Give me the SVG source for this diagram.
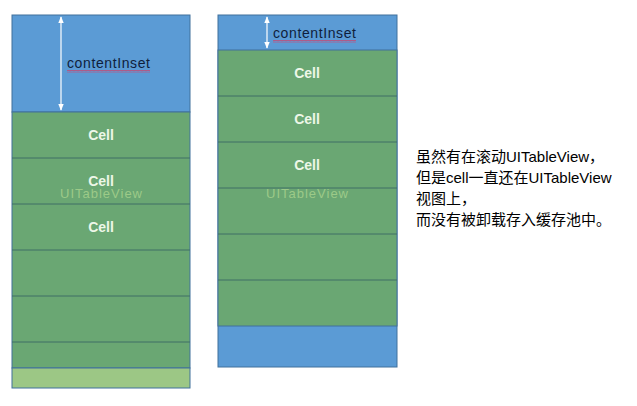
<svg xmlns="http://www.w3.org/2000/svg" width="637" height="406" viewBox="0 0 637 406">
<defs>
<style>
.blue{fill:#5b9bd5;stroke:#41719c;stroke-width:1}
.green{fill:#6aa773;stroke:#41719c;stroke-width:1}
.lgreen{fill:#9cc785;stroke:#41719c;stroke-width:1}
.sep{stroke:#3e6f66;stroke-width:1}
.cell{font-family:"Liberation Sans",Arial,sans-serif;font-size:14px;font-weight:bold;fill:#eef7e8;text-anchor:middle}
.ci{font-family:"Liberation Sans",Arial,sans-serif;font-size:14px;fill:#0f1e3c}
.wm{font-family:"Liberation Sans",Arial,sans-serif;font-size:13px;fill:#a9d38e;opacity:0.8;text-anchor:middle}
.note{font-family:"Liberation Sans","Noto Sans CJK SC",sans-serif;font-size:15px;fill:#000}
.arr{stroke:#ffffff;stroke-width:1.2;fill:none}
</style>
<marker id="ah" viewBox="0 0 10 10" refX="9" refY="5" markerWidth="6" markerHeight="6" orient="auto-start-reverse">
<path d="M0,1 L10,5 L0,9 z" fill="#ffffff"/>
</marker>
<pattern id="wave" width="4" height="3" patternUnits="userSpaceOnUse">
<path d="M0,2.5 L1,0.5 L2,2.5 L3,0.5 L4,2.5" stroke="#d0406a" stroke-width="0.7" fill="none"/>
</pattern>
</defs>

<g id="left-table">
<rect class="blue" x="12" y="15" width="178" height="97"/>
<rect class="green" x="12" y="112" width="178" height="256"/>
<rect class="lgreen" x="12" y="368" width="178" height="20"/>
<line class="sep" x1="12" y1="158" x2="190" y2="158"/>
<line class="sep" x1="12" y1="204" x2="190" y2="204"/>
<line class="sep" x1="12" y1="250" x2="190" y2="250"/>
<line class="sep" x1="12" y1="296" x2="190" y2="296"/>
<line class="sep" x1="12" y1="342" x2="190" y2="342"/>
<text class="wm" x="101" y="198" textLength="82">UITableView</text>
<text class="cell" x="101" y="140">Cell</text>
<text class="cell" x="101" y="186">Cell</text>
<text class="cell" x="101" y="232">Cell</text>
<text class="ci" x="67" y="68" textLength="83">contentInset</text>
<rect x="67" y="70" width="83" height="3" fill="url(#wave)"/>
</g>

<g id="right-table">
<rect class="blue" x="218" y="15" width="179" height="352"/>
<rect class="green" x="218" y="50" width="179" height="276"/>
<line class="sep" x1="218" y1="96" x2="397" y2="96"/>
<line class="sep" x1="218" y1="142" x2="397" y2="142"/>
<line class="sep" x1="218" y1="188" x2="397" y2="188"/>
<line class="sep" x1="218" y1="234" x2="397" y2="234"/>
<line class="sep" x1="218" y1="280" x2="397" y2="280"/>
<text class="wm" x="307" y="198" textLength="82">UITableView</text>
<text class="cell" x="307" y="78">Cell</text>
<text class="cell" x="307" y="124">Cell</text>
<text class="cell" x="307" y="170">Cell</text>
<text class="ci" x="273" y="38" textLength="83">contentInset</text>
<rect x="273" y="40" width="83" height="3" fill="url(#wave)"/>
</g>

<g id="connectors">
<line class="arr" x1="61" y1="17" x2="61" y2="110" marker-start="url(#ah)" marker-end="url(#ah)"/>
<line class="arr" x1="267" y1="17" x2="267" y2="48" marker-start="url(#ah)" marker-end="url(#ah)"/>
</g>

<g id="note">
<text class="note" x="416" y="162">虽然有在滚动UITableView，</text>
<text class="note" x="416" y="183">但是cell一直还在UITableView</text>
<text class="note" x="416" y="204">视图上，</text>
<text class="note" x="416" y="225">而没有被卸载存入缓存池中。</text>
</g>
</svg>
